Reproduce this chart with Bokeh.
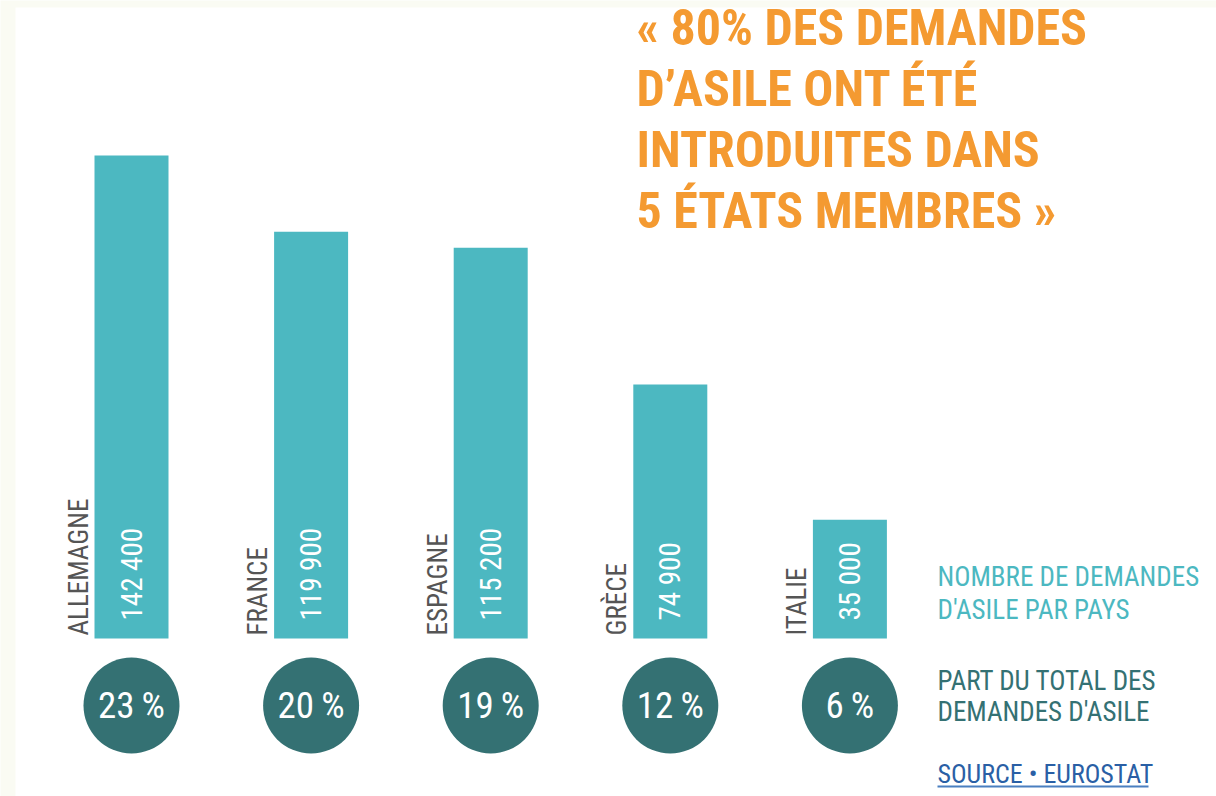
from math import pi
from bokeh.plotting import figure
from bokeh.models import Range1d, Label, BoxAnnotation, ColumnDataSource
from bokeh.core.properties import value
from bokeh.embed import file_html
from bokeh.resources import INLINE

# ---- data ----
countries = ["ALLEMAGNE", "FRANCE", "ESPAGNE", "GRÈCE", "ITALIE"]
requests = [142400, 119900, 115200, 74900, 35000]
request_labels = ["142 400", "119 900", "115 200", "74 900", "35 000"]
shares = [23, 20, 19, 12, 6]
share_labels = [f"{s}\u2009%" for s in shares]
title_lines = ["« 80% DES DEMANDES", "D’ASILE ONT ÉTÉ", "INTRODUITES DANS", "5 ÉTATS MEMBRES »"]
legend_bars = ["NOMBRE DE DEMANDES", "D'ASILE PAR PAYS"]
legend_circles = ["PART DU TOTAL DES", "DEMANDES D'ASILE"]
source_text = "SOURCE • EUROSTAT"

# ---- layout constants ----
W, H = 1216, 796
PX_X = 179.6          # pixels per category step
X0 = 131              # pixel centre of first bar
BASE = 638            # baseline pixel (from top)
UPP = 142400 / 483    # data units per pixel (vertical)
x_start = -X0 / PX_X
x_end = x_start + W / PX_X
y_start = -(H - BASE) * UPP
y_end = y_start + H * UPP
CIRCLE_Y = -67 * UPP

FONT = "'Roboto Condensed', 'DejaVu Sans Condensed'"
BAR_C = "#4cb8c1"
CIRC_C = "#347173"
ORANGE = "#f49a31"
GREY = "#555555"
BLUE = "#2a5fa5"

src = ColumnDataSource(dict(
    x=list(range(len(countries))),
    country=countries,
    req=requests,
    req_lab=request_labels,
    share_lab=share_labels,
    zero=[0] * len(countries),
    cy=[CIRCLE_Y] * len(countries),
))

p = figure(width=W, height=H, x_range=Range1d(x_start, x_end), y_range=Range1d(y_start, y_end),
           output_backend="svg", toolbar_location=None,
           x_axis_location=None, y_axis_location=None, min_border=0)
p.grid.visible = False
p.outline_line_color = None
p.background_fill_color = "#fafbf3"
p.border_fill_color = "#fafbf3"

p.add_layout(BoxAnnotation(left=15, right=W, bottom=0, top=H - 7,
                           left_units="screen", right_units="screen",
                           bottom_units="screen", top_units="screen",
                           fill_color="white", fill_alpha=1, line_color=None, level="underlay"))

p.vbar(x="x", top="req", bottom=0, width=74 / PX_X, source=src, fill_color=BAR_C, line_color=None)

p.text(x="x", y="zero", text="req_lab", source=src, angle=pi / 2, text_align="left",
       text_baseline="middle", y_offset=-18, text_color="white", text_font=value(FONT),
       text_font_size="29px")

p.text(x="x", y="zero", text="country", source=src, angle=pi / 2, text_align="left",
       text_baseline="middle", x_offset=-53, y_offset=-3, text_color=GREY, text_font=value(FONT),
       text_font_size="27px")

p.circle(x="x", y="cy", radius=48, radius_units="screen", source=src,
         fill_color=CIRC_C, line_color=None)
p.text(x="x", y="cy", text="share_lab", source=src, text_align="center",
       text_baseline="middle", text_color="white", text_font=value(FONT), text_font_size="37px")

for i, line in enumerate(title_lines):
    p.add_layout(Label(x=636, y=H - (27 + i * 61.3), x_units="screen", y_units="screen",
                       text=line, text_color=ORANGE, text_font=FONT, text_font_size="50px",
                       text_font_style="bold", text_baseline="middle"))

for i, line in enumerate(legend_bars):
    p.add_layout(Label(x=937, y=H - (576 + i * 33), x_units="screen", y_units="screen",
                       text=line, text_color=BAR_C, text_font=FONT, text_font_size="27px",
                       text_baseline="middle"))

for i, line in enumerate(legend_circles):
    p.add_layout(Label(x=937, y=H - (680 + i * 31), x_units="screen", y_units="screen",
                       text=line, text_color=CIRC_C, text_font=FONT, text_font_size="27px",
                       text_baseline="middle"))

p.add_layout(Label(x=937, y=H - 773, x_units="screen", y_units="screen",
                   text=source_text, text_color=BLUE, text_font=FONT, text_font_size="26px",
                   text_baseline="middle"))
p.add_layout(BoxAnnotation(left=937, right=1148, bottom=H - 787, top=H - 785,
                           left_units="screen", right_units="screen",
                           bottom_units="screen", top_units="screen",
                           fill_color="#4a7fc0", fill_alpha=1, line_color=None))

open("out.html", "w").write(file_html(p, INLINE))
